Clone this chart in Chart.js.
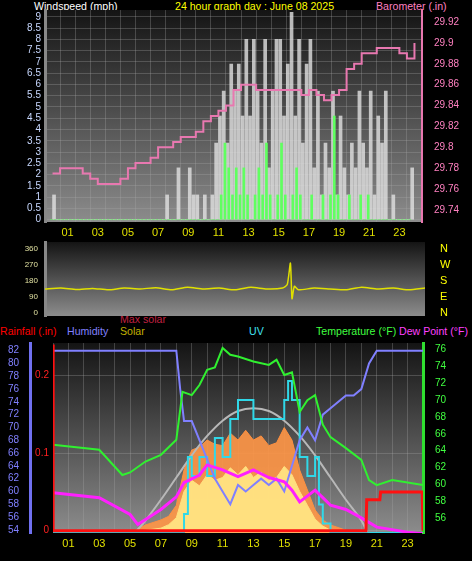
<!DOCTYPE html>
<html><head><meta charset="utf-8">
<script src="https://cdn.jsdelivr.net/npm/chart.js@4"></script>
<style>
body{margin:0;background:#000;width:472px;height:561px;overflow:hidden;position:relative;font-family:"Liberation Sans",Arial,sans-serif}
canvas{position:absolute;left:0}
.t{position:absolute;font-size:10.6px;white-space:nowrap}
.d{position:absolute;font-size:8px;color:#e0e0a0;width:38px;text-align:right;left:0}
.n{position:absolute;font-size:11px;color:#ff0;left:440px}
</style></head><body>
<div class="t" style="left:34px;top:0;color:#fff">Windspeed (mph)</div>
<div class="t" style="left:175px;top:0;color:#ff0">24 hour graph day : June 08 2025</div>
<div class="t" style="left:376px;top:0;color:#ff80c0">Barometer (.in)</div>
<div class="t" style="left:0;top:325px;color:#f00">Rainfall (.in)</div>
<div class="t" style="left:67px;top:325px;color:#8080ff">Humidity</div>
<div class="t" style="left:120px;top:313px;color:#c02040">Max solar</div>
<div class="t" style="left:120px;top:325px;color:#c0b000">Solar</div>
<div class="t" style="left:249px;top:325px;color:#40e0f0">UV</div>
<div class="t" style="left:316px;top:325px;color:#40ff40">Temperature (°F)</div>
<div class="t" style="left:399px;top:325px;color:#ff40ff">Dew Point (°F)</div>
<div style="position:absolute;left:0;top:0;width:472px;height:240px"><canvas id="c1" width="472" height="240"></canvas></div>
<div style="position:absolute;left:0;top:240px;width:472px;height:78px"><canvas id="c2" width="472" height="78"></canvas></div>
<div style="position:absolute;left:0;top:318px;width:472px;height:243px"><canvas id="c3" width="472" height="243"></canvas></div>
<div id="labs"></div>
<script>
// ---- data ----
const gustHours = Array.from({length:96},(_,i)=>i/4);
const gustValues = [
1.1,0,0,0, 0,0,0,0, 0,0,0,0, 0,0,0,0, 0,0,0,0, 0,0,0,0, 0,0,0,0,
0,0,1.1,0, 0,2.3,0,0, 2.3,1.1,1.1,0, 1.1,0,1.1,3.4, 4.6,5.7,3.4,6.9,
5.7,6.9,4.6,8.0, 4.6,8.0,5.7,3.4, 8.0,2.3,5.7,8.0, 8.0,4.6,6.9,9.2,
4.6,8.0,3.4,6.9, 8.0,2.3,5.7,1.1, 3.4,2.3,5.7,1.1, 4.6,2.3,1.1,3.4,
2.3,5.7,3.4,2.3, 5.7,1.1,4.6,3.4, 5.7,0,1.1,0, 0,0,0,2.3];
const avgValues = [
0,0,0,0, 0,0,0,0, 0,0,0,0, 0,0,0,0, 0,0,0,0, 0,0,0,0, 0,0,0,0,
0,0,0,0, 0,0,0,0, 0,0,0,0, 0,0,0,0, 0,1.1,3.4,2.3,
1.1,2.3,1.1,2.3, 1.1,0,1.1,2.3, 1.1,3.4,1.1,0, 1.1,3.4,1.1,0,
1.1,2.3,1.1,0, 0,1.1,0,0, 1.1,0,1.1,4.6, 1.1,0,0,1.1,
0,0,1.1,0, 1.1,0,0,0, 0,0,0,0, 0,0,0,0];
const baroHours = Array.from({length:49},(_,i)=>i/2);
const baroValues = [29.775,29.78,29.78,29.78,29.775,29.77,29.765,29.765,29.765,29.77,29.78,29.785,29.785,29.79,29.80,29.80,29.805,29.81,29.81,29.815,29.825,29.83,29.835,29.84,29.855,29.86,29.86,29.855,29.855,29.855,29.855,29.855,29.855,29.85,29.855,29.85,29.845,29.85,29.855,29.875,29.88,29.89,29.89,29.895,29.895,29.895,29.89,29.885,29.9];
const dirHours = [0,1,2,3,4,5,6,7,8,9,10,11,12,13,14,15,15.3,15.5,15.6,15.75,16,17,18,19,20,21,22,23,24];
const dirValues = [135,140,132,138,130,140,135,142,130,145,135,140,130,145,135,140,160,280,80,150,130,140,135,130,145,135,140,130,140];
const humHours = [0,8,8.25,8.5,9,9.5,10,10.5,11,11.5,12,12.5,13,13.5,14,14.5,15,15.5,16,16.5,17,17.5,18,19,19.5,20,20.5,21,24];
const humValues = [82,82,76,71,71,68,65,62,60,58,61,60,61,62,61,62,60,64,68,70,68,72,73,75,75,76,80,82,82];
const tempHours = [0,3,4.5,5,6,7,8,8.4,9,9.5,10,10.5,11,11.5,12,13,14,14.5,15,15.5,16,16.5,17,17.5,18,19,20,20.5,21,22,24];
const tempValues = [64.7,64.1,61.1,61.4,62.7,63.5,65.3,71,70.6,71.8,73.6,73.9,76.2,75.4,75.2,74.6,74.2,74.8,73,73.3,68.6,70,70.6,67.1,65.6,64.3,62.9,60.5,59.9,60.5,59.9];
const dewHours = [0,3,5,5.5,7,8,8.5,9.5,10,11,12,13,14,15,15.5,16,17,17.5,18,19,20,21,22,23,24];
const dewValues = [59,58.4,56.4,55.2,57,58.5,60.2,61.1,62.3,61.7,60.9,61.7,60.8,60.3,59.3,57.9,59.3,58.4,57.5,57,56,54.9,54.6,54.3,54.1];
const rainHours = [0,0.01,20.3,20.35,21.2,21.25,23.95,24];
const rainValues = [0.24,0,0,0.04,0.04,0.05,0.05,0];
const maxSolarHours = [5.3,6,7,8,9,10,11,12,13,14,15,16,17,18,19,20,20.4];
const maxSolarValues = [0,90,240,400,560,700,810,880,900,880,810,700,560,400,240,90,0];
const solarHours = [5,6,7,7.5,8,8.5,9,9.5,10,10.5,11,11.5,12,12.5,13,13.5,14,14.5,15,15.5,16,16.5,17,17.5,18,19,20];
const solarValues = [0,58,94,120,200,454,598,620,670,640,630,720,670,740,670,700,630,650,760,670,454,310,166,94,58,20,0];
const solarLowValues = [0,20,35,60,110,300,380,340,420,380,400,470,420,480,400,440,380,400,480,420,300,200,100,50,20,5,0];
const uvHours = [0,8.4,8.5,8.75,9,9.5,10,10.5,11,11.5,12,12.5,13,13.5,14,14.5,15,15.25,15.5,16,16.5,17,17.25,17.5,18,24];
const uvValues = [0,0,1,4,3,4,3,5,4,6,7,7,6,6,6,6,7,8,7,4,3,4,1.5,0.5,0,0];
const hourTicks = ['01','03','05','07','09','11','13','15','17','19','21','23'];
const windTicks = [0,0.5,1,1.5,2,2.5,3,3.5,4,4.5,5,5.5,6,6.5,7,7.5,8,8.5,9];
const baroTicks = [29.74,29.76,29.78,29.80,29.82,29.84,29.86,29.88,29.90,29.92];
const dirTicks = [0,90,180,270,360];
const compassTicks = ['N','E','S','W','N'];
const humTicks = [54,56,58,60,62,64,66,68,70,72,74,76,78,80,82];
const rainTicks = [0,0.1,0.2];
const tempTicks = [56,58,60,62,64,66,68,70,72,74,76];

const pts=(h,v)=>h.map((x,i)=>({x,y:v[i]}));
const setT=list=>s=>{s.ticks=list.map(v=>({value:v}))};
const bg={id:'bg',beforeDraw(c){const a=c.chartArea,x=c.ctx;const g=x.createLinearGradient(0,a.top,0,a.bottom);g.addColorStop(0,'#141414');g.addColorStop(1,'#8c8c8c');x.save();x.fillStyle=g;x.fillRect(a.left,a.top,a.right-a.left,a.bottom-a.top);x.restore();}};
const grid={color:'rgba(170,170,170,0.3)',borderDash:[1,3],drawTicks:false};
const xAxis=(show,h)=>({type:'linear',min:0,max:24,grid,border:{display:false},
  afterFit:s=>{s.height=h},
  afterBuildTicks:setT(Array.from({length:25},(_,i)=>i)),
  ticks:{display:show,autoSkip:false,maxRotation:0,color:'#e0e000',font:{size:11},padding:4,
    callback:v=>(v%2===1)?hourTicks[(v-1)/2]:''}});
const fit=w=>s=>{s.width=w};
Chart.defaults.animation=false;
Chart.defaults.font.family='"Liberation Sans",Arial,sans-serif';
const common={responsive:false,plugins:{legend:{display:false},tooltip:{enabled:false}}};

new Chart(document.getElementById('c1'),{type:'bar',plugins:[bg],
 data:{datasets:[
  {type:'line',data:pts(baroHours,baroValues),yAxisID:'yb',stepped:true,borderColor:'#e878b0',borderWidth:2,pointRadius:0},
  {data:pts(gustHours,avgValues),backgroundColor:'#60ff60',barThickness:2,yAxisID:'y'},
  {data:pts(gustHours,gustValues),backgroundColor:'rgba(225,225,225,0.8)',barThickness:3,yAxisID:'y'}]},
 options:{...common,layout:{padding:{top:10,left:0,right:0,bottom:0}},
  scales:{x:xAxis(true,18),
   y:{position:'left',min:-0.1,max:9.3,afterFit:fit(45),grid,border:{color:'#888',width:3},afterBuildTicks:setT(windTicks),
     ticks:{autoSkip:false,color:'#c8d8ff',font:{size:10},padding:4,callback:v=>String(v)}},
   yb:{position:'right',min:29.7285,max:29.9315,afterFit:fit(50),grid:{display:false},border:{color:'#e878b0',width:2},afterBuildTicks:setT(baroTicks),
     ticks:{autoSkip:false,color:'#ff80c0',font:{size:10},padding:4,callback:v=>String(Math.round(v*100)/100)}}}}});

const c2=new Chart(document.getElementById('c2'),{type:'line',plugins:[bg],
 data:{datasets:[{data:pts(dirHours,dirValues),borderColor:'#e0e000',borderWidth:1.5,pointRadius:0,tension:0.2}]},
 options:{...common,layout:{padding:{top:2,bottom:2,left:0,right:0}},
  scales:{x:{type:'linear',min:0,max:24,display:false},
   y:{position:'left',min:-17,max:399,afterFit:fit(45),grid:{display:false},border:{color:'#888',width:3},afterBuildTicks:setT(dirTicks),
     ticks:{display:false}},
   y2:{position:'right',min:-17,max:399,afterFit:fit(47),grid:{display:false},border:{display:false},
     ticks:{display:false}}}}});
const ys=c2.scales.y;let html='';
dirTicks.forEach((v,i)=>{const py=240+ys.getPixelForValue(v);
  html+=`<div class="d" style="top:${py-5}px">${v}</div><div class="n" style="top:${py-7}px">${compassTicks[i]}</div>`;});
document.getElementById('labs').innerHTML=html;

new Chart(document.getElementById('c3'),{type:'line',plugins:[bg],
 data:{datasets:[
  {data:pts(rainHours,rainValues),yAxisID:'yr',borderColor:'#ff1010',borderWidth:3,pointRadius:0},
  {data:pts(tempHours,tempValues),yAxisID:'yt',borderColor:'#30f030',borderWidth:2,pointRadius:0},
  {data:pts(dewHours,dewValues),yAxisID:'yt',borderColor:'#ff20ff',borderWidth:3,pointRadius:0},
  {data:pts(humHours,humValues),yAxisID:'yh',borderColor:'#8080ff',borderWidth:2,pointRadius:0},
  {data:pts(uvHours,uvValues),yAxisID:'yu',borderColor:'#30d8e8',borderWidth:2,pointRadius:0,stepped:true},
  {data:pts(maxSolarHours,maxSolarValues),yAxisID:'ys',borderColor:'#b8b8b8',borderWidth:2,pointRadius:0,tension:0.4},
  {data:pts(solarHours,solarLowValues),yAxisID:'ys',borderColor:'#ffe080',borderWidth:1,backgroundColor:'rgba(255,228,130,0.95)',fill:'origin',pointRadius:0},
  {data:pts(solarHours,solarValues),yAxisID:'ys',borderColor:'#ff9040',borderWidth:1,backgroundColor:'rgba(255,150,70,0.9)',fill:'origin',pointRadius:0}]},
 options:{...common,layout:{padding:{top:25}},
  scales:{x:xAxis(true,28),
   yr:{position:'left',min:-0.003,max:0.242,afterFit:fit(23),grid,border:{display:false},afterBuildTicks:setT(rainTicks),
     ticks:{autoSkip:false,color:'#ff2020',font:{size:10},padding:4,callback:v=>v===0?'0':String(v)}},
   yh:{position:'left',min:53.5,max:83.2,afterFit:fit(30),grid:{display:false},border:{color:'#7070f0',width:3},afterBuildTicks:setT(humTicks),
     ticks:{autoSkip:false,color:'#8080ff',font:{size:10},padding:3}},
   yt:{position:'right',min:54.2,max:76.8,afterFit:fit(49),grid:{display:false},border:{color:'#30e030',width:3},afterBuildTicks:setT(tempTicks),
     ticks:{autoSkip:false,color:'#40ff40',font:{size:10},padding:4}},
   ys:{display:false,min:0,max:1370},
   yu:{display:false,min:0,max:10}}}});
</script></body></html>
